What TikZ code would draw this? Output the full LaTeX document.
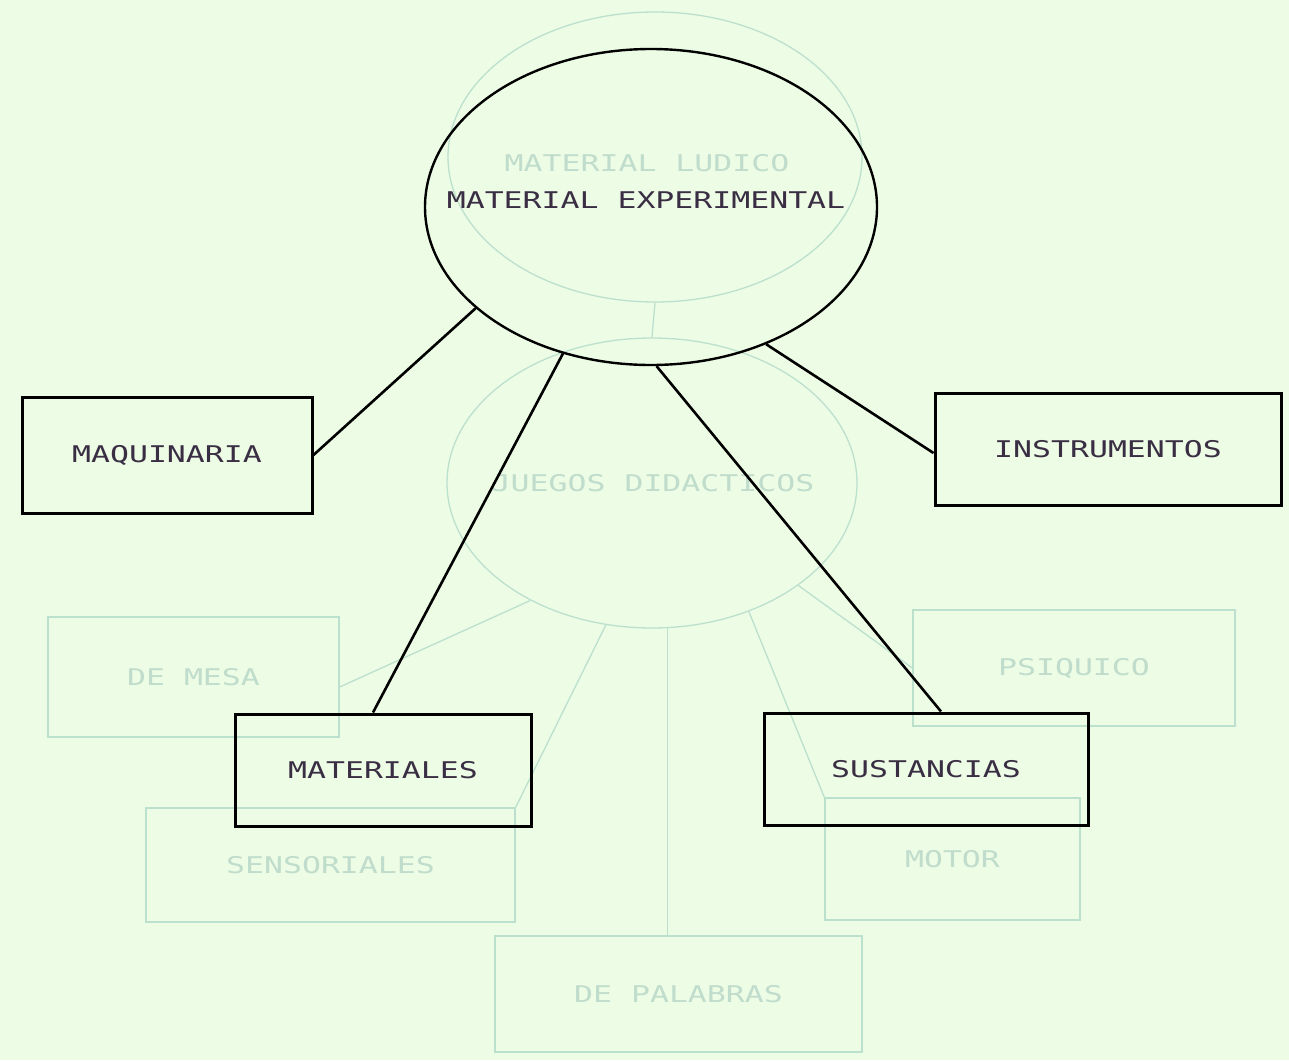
\documentclass[tikz,border=0pt]{standalone}
\usepackage{fontspec}
\usetikzlibrary{shapes.geometric}
\newfontfamily\dm[FakeStretch=1.37]{DejaVu Sans Mono}
\definecolor{bg}{RGB}{237,252,228}
\definecolor{ink}{RGB}{58,46,68}
\definecolor{ghost}{RGB}{188,224,206}
\definecolor{ghosttext}{RGB}{192,220,204}
\begin{document}
\begin{tikzpicture}[x=1pt,y=-1pt,
  lbl/.style={font=\dm\fontsize{23}{23}\selectfont},
  box/.style={lbl,draw=black,line width=3pt,rectangle,inner sep=0pt,text=ink},
  mainell/.style={draw=black,line width=2.4pt,ellipse,inner sep=0pt},
  mtext/.style={lbl,text=ink},
  gbox/.style={lbl,draw=ghost,line width=1.3pt,rectangle,inner sep=0pt,text=ghosttext},
  gell/.style={draw=ghost,line width=1.3pt,ellipse,inner sep=0pt},
  gtext/.style={lbl,text=ghosttext},
  conn/.style={draw=black,line width=2.6pt},
  gconn/.style={draw=ghost,line width=1.3pt}]
\fill[bg] (0,0) rectangle (1289,1060);
\useasboundingbox (0,0) rectangle (1289,1060);

% faint show-through from the other side of the sheet
\node[gell, minimum width=414, minimum height=290] (lud) at (655,157) {};
\node[gtext] (ludt) at (647,163) {MATERIAL LUDICO};
\node[gell, minimum width=410, minimum height=290] (jue) at (652,483) {};
\node[gtext] (juet) at (653,483) {JUEGOS DIDACTICOS};
\node[gbox, minimum width=291, minimum height=120] (mesa) at (193.5,677) {DE MESA};
\node[gbox, minimum width=369, minimum height=114] (sens) at (330.5,865) {SENSORIALES};
\node[gbox, minimum width=322, minimum height=116] (psi) at (1074,668) {PSIQUICO};
\node[gbox, minimum width=255, minimum height=122] (mot) at (952.5,859) {MOTOR};
\node[gbox, minimum width=367, minimum height=116] (pal) at (678.5,994) {DE PALABRAS};
\draw[gconn] (lud.south) -- (jue.north);
\draw[gconn] (jue.224) -- ([yshift=-10pt]mesa.east);
\draw[gconn] (jue.252) -- (sens.north east);
\draw[gconn] (jue.276) -- (jue.276 |- pal.north);
\draw[gconn] (jue.307) -- (mot.north west);
\draw[gconn] (jue.325) -- (psi.west);

% main diagram
\node[mainell, minimum width=452, minimum height=316] (me) at (651,207) {};
\node[mtext] (met) at (646,200) {MATERIAL EXPERIMENTAL};
\node[box, minimum width=290, minimum height=116] (maq) at (167,455) {MAQUINARIA};
\node[box, minimum width=346, minimum height=112] (ins) at (1108,449) {INSTRUMENTOS};
\node[box, minimum width=296, minimum height=112] (mat) at (383,770) {MATERIALES};
\node[box, minimum width=324, minimum height=112] (sus) at (926,769) {SUSTANCIAS};

\draw[conn] (me.210) -- (maq.east);
\draw[conn] (me.239) -- ([xshift=-10pt]mat.north);
\draw[conn] (me.272) -- ([xshift=15pt]sus.north);
\draw[conn] (me.310) -- ([yshift=-4pt]ins.west);
\end{tikzpicture}
\end{document}
